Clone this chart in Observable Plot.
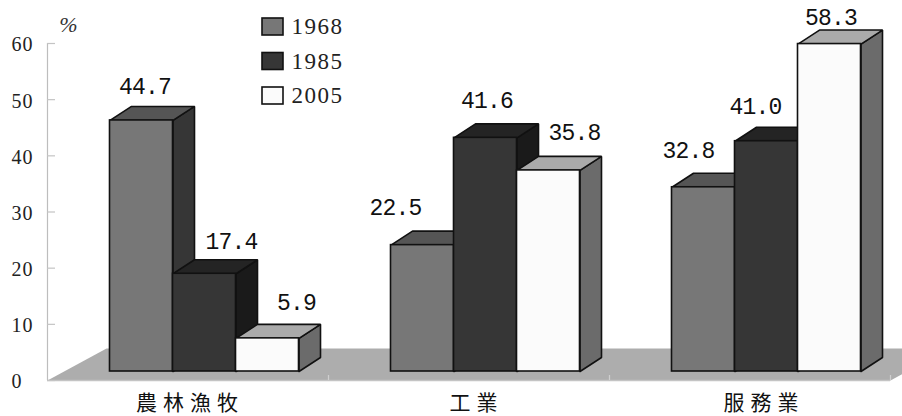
<!DOCTYPE html>
<html>
<head>
<meta charset="utf-8">
<script src="https://cdn.jsdelivr.net/npm/d3@7"></script>
<script src="https://cdn.jsdelivr.net/npm/@observablehq/plot@0.6"></script>
<style>
html,body{margin:0;padding:0;background:#fff;overflow:hidden;width:902px;height:416px}
.vals text{letter-spacing:-0.8px}
.legendText text{letter-spacing:1.5px}
.yax text{letter-spacing:1px}
.cats text{letter-spacing:6px}
</style>
</head>
<body>
<div id="chart"></div>
<script>
const categories = ["農林漁牧", "工業", "服務業"];
const years = ["1968", "1985", "2005"];
const values1968 = [44.7, 22.5, 32.8];
const values1985 = [17.4, 41.6, 41.0];
const values2005 = [5.9, 35.8, 58.3];
const yTicks = [0, 10, 20, 30, 40, 50, 60];

// layout (pixel nudges for labels, faces' shades)
const shades = [
  {front: "#777777", top: "#555555", side: "#363636"},
  {front: "#363636", top: "#242424", side: "#1a1a1a"},
  {front: "#fbfbfb", top: "#aaaaaa", side: "#6b6b6b"}
];
const labelNudge = [
  [[3.5, -20], [-27, -24], [-15, -23]],
  [[27, -18], [1.5, -23], [-11, -21]],
  [[29, -22], [26, -24], [1.5, -12]]
];
const catCenter = [0.507, 1.527, 2.55];

const PW = 281, PY = 337 / 60;            // px per x unit / px per y unit
const start = 62.5 / PW, barW = 63 / PW;  // bar placement inside a slot
const lift = 9 / PY;                      // front plane sits above the axis zero
const depthX = 21.5 / PW, depthY = 14 / PY;
const edge = {stroke: "#111", strokeWidth: 1.6, strokeLinejoin: "miter"};

const seriesValues = [values1968, values1985, values2005];

const floor = [[0, 0], [59 / PW, 32 / PY], [3 + 59 / PW, 32 / PY], [3, 0]];

const barMarks = seriesValues.flatMap((vals, s) => {
  const bars = vals.map((v, i) => ({
    v, i,
    x0: i + start + s * barW,
    x1: i + start + (s + 1) * barW,
    y0: lift,
    y1: lift + v
  }));
  const side = bars.flatMap(b => [
    [b.x1, b.y0], [b.x1 + depthX, b.y0 + depthY], [b.x1 + depthX, b.y1 + depthY], [b.x1, b.y1], [b.x1, b.y0]
  ].map(p => ({i: b.i, x: p[0], y: p[1]})));
  const top = bars.flatMap(b => [
    [b.x0, b.y1], [b.x1, b.y1], [b.x1 + depthX, b.y1 + depthY], [b.x0 + depthX, b.y1 + depthY], [b.x0, b.y1]
  ].map(p => ({i: b.i, x: p[0], y: p[1]})));
  return [
    Plot.line(side, {x: "x", y: "y", z: "i", fill: shades[s].side, ...edge}),
    Plot.line(top, {x: "x", y: "y", z: "i", fill: shades[s].top, ...edge}),
    Plot.rect(bars, {x1: "x0", x2: "x1", y1: "y0", y2: "y1", fill: shades[s].front, ...edge})
  ];
});

const labelMarks = seriesValues.flatMap((vals, s) => vals.map((v, i) =>
  Plot.text([v], {
    x: i + start + (s + 0.5) * barW,
    y: lift + v + depthY,
    text: d => d.toFixed(1),
    dx: labelNudge[s][i][0],
    dy: labelNudge[s][i][1],
    fontFamily: "Liberation Mono",
    fontSize: 23,
    fill: "#111",
    className: "vals"
  })
));

const legendRows = years.map((y, k) => ({y, k}));
const lx0 = 215 / PW, lx1 = 236 / PW, ltx = 244 / PW;
const lrow = k => (380 - 26.5 - k * 34.5) / PY;

const chart = Plot.plot({
  width: 902,
  height: 416,
  marginLeft: 47,
  marginRight: 12,
  marginTop: 43,
  marginBottom: 36,
  style: {background: "#fff", overflow: "hidden"},
  x: {domain: [0, 3], range: [47, 890], axis: null},
  y: {domain: [0, 60], axis: null},
  marks: [
    Plot.line([...floor, floor[0]], {x: d => d[0], y: d => d[1], fill: "#adadad", stroke: "none"}),
    Plot.ruleX([0], {y1: 0, y2: 60, stroke: "#bdbdbd", strokeWidth: 1.2}),
    Plot.ruleY([0], {x1: 0, x2: 3, stroke: "#c4c4c4", strokeWidth: 1.5}),
    Plot.ruleY(yTicks, {x1: 0, x2: 8 / PW, stroke: "#c4c4c4", strokeWidth: 1.2}),
    Plot.ruleX([1, 2, 3], {y1: 0, y2: 5 / PY, stroke: "#cfcfcf", strokeWidth: 1.2}),
    Plot.axisY(yTicks, {
      anchor: "left", tickSize: 0, tickPadding: 36, textAnchor: "start", dy: 1.5,
      fontFamily: "Liberation Serif", fontSize: 20, fill: "#222", label: null, className: "yax"
    }),
    ...barMarks,
    ...labelMarks,
    Plot.text(categories, {
      x: (d, i) => catCenter[i], y: 0, dy: 22.5, text: d => d,
      fontFamily: "Noto Sans CJK TC", fontSize: 21, fill: "#111", className: "cats"
    }),
    Plot.text(["%"], {
      x: 21 / PW, y: 356 / PY, text: d => d,
      fontFamily: "Liberation Serif", fontStyle: "italic", fontSize: 22, fill: "#333"
    }),
    ...legendRows.map(r => Plot.rect([r], {
      x1: lx0, x2: lx1, y1: lrow(r.k) - 8.5 / PY, y2: lrow(r.k) + 8.5 / PY,
      fill: shades[r.k].front, stroke: "#111", strokeWidth: 1.6
    })),
    Plot.text(legendRows, {
      x: ltx, y: d => lrow(d.k), text: "y", textAnchor: "start",
      fontFamily: "Liberation Serif", fontSize: 23, fill: "#222", className: "legendText"
    })
  ]
});
document.getElementById("chart").appendChild(chart);
</script>
</body>
</html>
